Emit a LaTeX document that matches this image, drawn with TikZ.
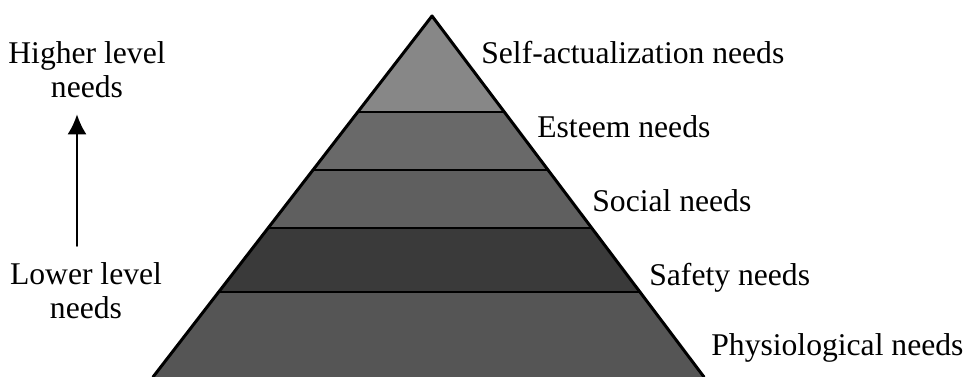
\documentclass[tikz,border=0pt]{standalone}
\usepackage{fontspec}
\setmainfont{Liberation Serif}
\usetikzlibrary{positioning,calc,arrows.meta}

\begin{document}
\begin{tikzpicture}[
    x=0.02cm, y=-0.02cm,
    font=\fontsize{18pt}{19.3pt}\selectfont,
    >={Latex[length=0.4cm,width=0.38cm]},
    line join=round,
    line cap=round
]

% ========= Colors =========
\definecolor{tierone}{RGB}{135,135,135}
\definecolor{tiertwo}{RGB}{105,105,105}
\definecolor{tierthree}{RGB}{95,95,95}
\definecolor{tierfour}{RGB}{58,58,58}
\definecolor{tierfive}{RGB}{85,85,85}

\useasboundingbox (0,0) rectangle (967,377);

% ========= Pyramid corners =========
\coordinate (apex) at (432,16);
\coordinate (bl) at (153,377);
\coordinate (br) at (704,377);

% ========= Tiers (fractions along the sides) =========
\foreach \ta/\tb/\col in {0/0.266/tierone,0.266/0.427/tiertwo,0.427/0.587/tierthree,0.587/0.765/tierfour,0.765/1/tierfive}
{
    \fill[\col] ($(apex)!\ta!(bl)$) -- ($(apex)!\tb!(bl)$) -- ($(apex)!\tb!(br)$) -- ($(apex)!\ta!(br)$) -- cycle;
}

\foreach \t in {0.266,0.427,0.587,0.765}
{
    \draw[line width=1.5pt] ($(apex)!\t!(bl)$) -- ($(apex)!\t!(br)$);
}

\draw[line width=1.7pt] (bl) -- (apex) -- (br);

% ========= Tier labels =========
\foreach \x/\y/\lab/\nm in {481/64/Self-actualization needs/self,537/138/Esteem needs/esteem,592/212/Social needs/social,649/286/Safety needs/safety,711/356/Physiological needs/physio}
{
    \node[anchor=base west, inner sep=0] (\nm) at (\x,\y) {\lab};
}

% ========= Direction of needs =========
\node[align=center, anchor=north, inner sep=0] (high) at (87,41) {Higher level\\needs};
\node[align=center, anchor=north, inner sep=0] (low) at (86,262) {Lower level\\needs};

\draw[->, line width=1.1pt] ([xshift=-0.18cm,yshift=0.32cm]low.north) -- ([xshift=-0.2cm,yshift=-0.33cm]high.south);

\end{tikzpicture}
\end{document}
